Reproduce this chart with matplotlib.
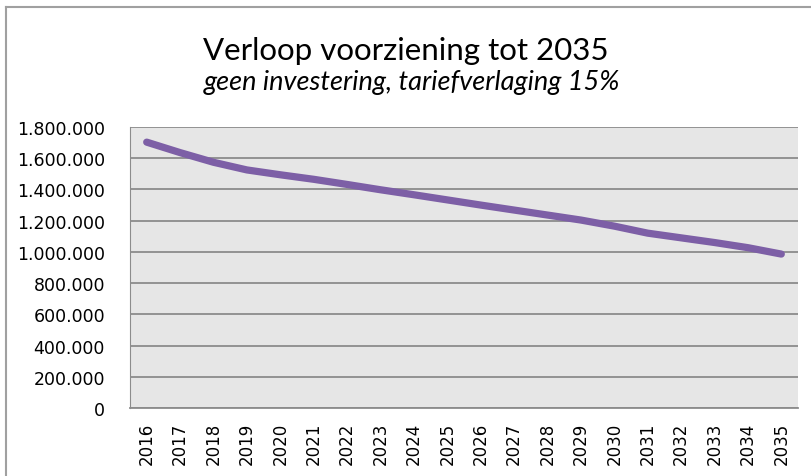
import matplotlib
matplotlib.use('Agg')
import matplotlib.pyplot as plt
from matplotlib.lines import Line2D
from matplotlib.ticker import FuncFormatter, MultipleLocator

# data
jaren = [str(j) for j in range(2016, 2036)]
voorziening = [1703000, 1636000, 1574000, 1525000, 1494000, 1465000, 1432000,
               1398000, 1366000, 1333000, 1300000, 1268000, 1236000, 1204000,
               1165000, 1120000, 1090000, 1060000, 1027000, 986000]

titel = "Verloop voorziening tot 2035"
subtitel = "geen investering, tariefverlaging 15%"

fig = plt.figure(figsize=(8.11, 4.77), dpi=100)
ax = fig.add_axes([130/811, 1-409/477, (798-130)/811, (409-128)/477])

x = range(len(jaren))
ax.plot(x, voorziening, color='#7D5FA6', lw=5.2, solid_capstyle='round', zorder=3)

ax.set_facecolor('#e6e6e6')
ax.set_xlim(-0.5, len(jaren)-0.5)
ax.set_ylim(0, 1800000)
ax.yaxis.set_major_locator(MultipleLocator(200000))
ax.yaxis.set_major_formatter(FuncFormatter(lambda v, p: f"{int(v):,}".replace(',', '.')))
ax.grid(axis='y', color='#8c8c8c', lw=1.3)
ax.set_axisbelow(True)
ax.set_xticks(list(x))
ax.set_xticklabels(jaren, rotation=90)
ax.tick_params(length=0)
ax.tick_params(axis='y', labelsize=12.5, pad=18)
ax.tick_params(axis='x', labelsize=12, pad=10)
for s in ['top', 'right']:
    ax.spines[s].set_visible(False)
ax.spines['left'].set_color('#8c8c8c')
ax.spines['bottom'].set_color('#8c8c8c')
ax.spines['bottom'].set_linewidth(1.3)

fig.text(0.5, 1-60/477, titel, ha='center', va='baseline', fontsize=22.5, family='Lato')
fig.text(0.508, 1-90/477, subtitel, ha='center', va='baseline', fontsize=19.5,
         family='Lato', style='italic')

# rand van de grafiek
fig.add_artist(Line2D([5.5/811, 5.5/811], [0, 1-8/477], color='#a0a0a0', lw=1.5))
fig.add_artist(Line2D([5.5/811, 1], [1-8/477, 1-8/477], color='#a0a0a0', lw=1.5))

fig.savefig('out.png', dpi=100)
